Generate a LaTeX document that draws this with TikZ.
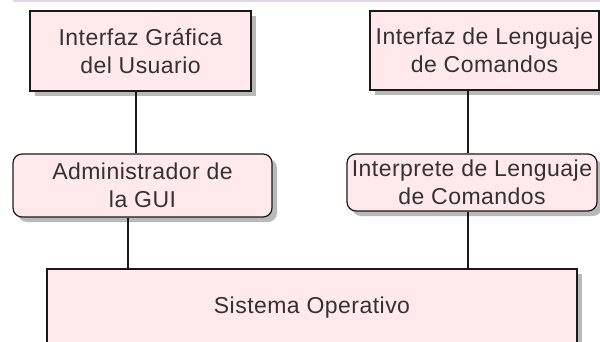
\documentclass[tikz,border=0pt]{standalone}
\usepackage{fontspec}
\setmainfont{Liberation Sans}[LetterSpace=2]
\usetikzlibrary{shadows}
\definecolor{boxfill}{RGB}{255,233,235}
\definecolor{boxtext}{RGB}{50,50,50}
\definecolor{strip}{RGB}{228,212,234}
\begin{document}
\begin{tikzpicture}[x=1pt,y=1pt,
  boxbase/.style={draw=black!90, line width=1.2pt, fill=boxfill,
    text=boxtext, align=center, inner sep=0pt,
    font=\fontsize{23}{27.5}\selectfont,
    drop shadow={shadow xshift=5pt, shadow yshift=-5pt, fill=gray!55, opacity=1}},
  sqbox/.style={boxbase, rectangle},
  rdbox/.style={boxbase, rectangle, rounded corners=9pt},
  link/.style={draw=black!90, line width=1.2pt}]
\useasboundingbox (0,0) rectangle (600,341);
\clip (0,0) rectangle (600,341);
\fill[strip] (13,339.4) rectangle (600,341);
\node[sqbox, minimum width=221pt, minimum height=80pt] (gui) at (140.5,290) {Interfaz Gráfica\\del Usuario};
\node[sqbox, minimum width=229pt, minimum height=79pt] (cli) at (484.5,290.5) {Interfaz de Lenguaje\\de Comandos};
\node[rdbox, minimum width=259pt, minimum height=63pt] (adm) at (142.5,155.5) {Administrador de\\la GUI};
\node[rdbox, minimum width=250pt, minimum height=57pt] (int) at (472,158.5) {Interprete de Lenguaje\\de Comandos};
\node[sqbox, minimum width=530pt, minimum height=90pt] (so) at (312,27) {};
\node[text=boxtext, font=\fontsize{23}{27.5}\selectfont, anchor=base, inner sep=0pt] (sotext) at (312,28) {Sistema Operativo};
\coordinate (xa) at (136,0);
\coordinate (xb) at (468,0);
\coordinate (xc) at (128,0);
\draw[link] (gui.south -| xa) -- (adm.north -| xa);
\draw[link] (cli.south -| xb) -- (int.north -| xb);
\draw[link] (adm.south -| xc) -- (so.north -| xc);
\draw[link] (int.south -| xb) -- (so.north -| xb);
\end{tikzpicture}
\end{document}
